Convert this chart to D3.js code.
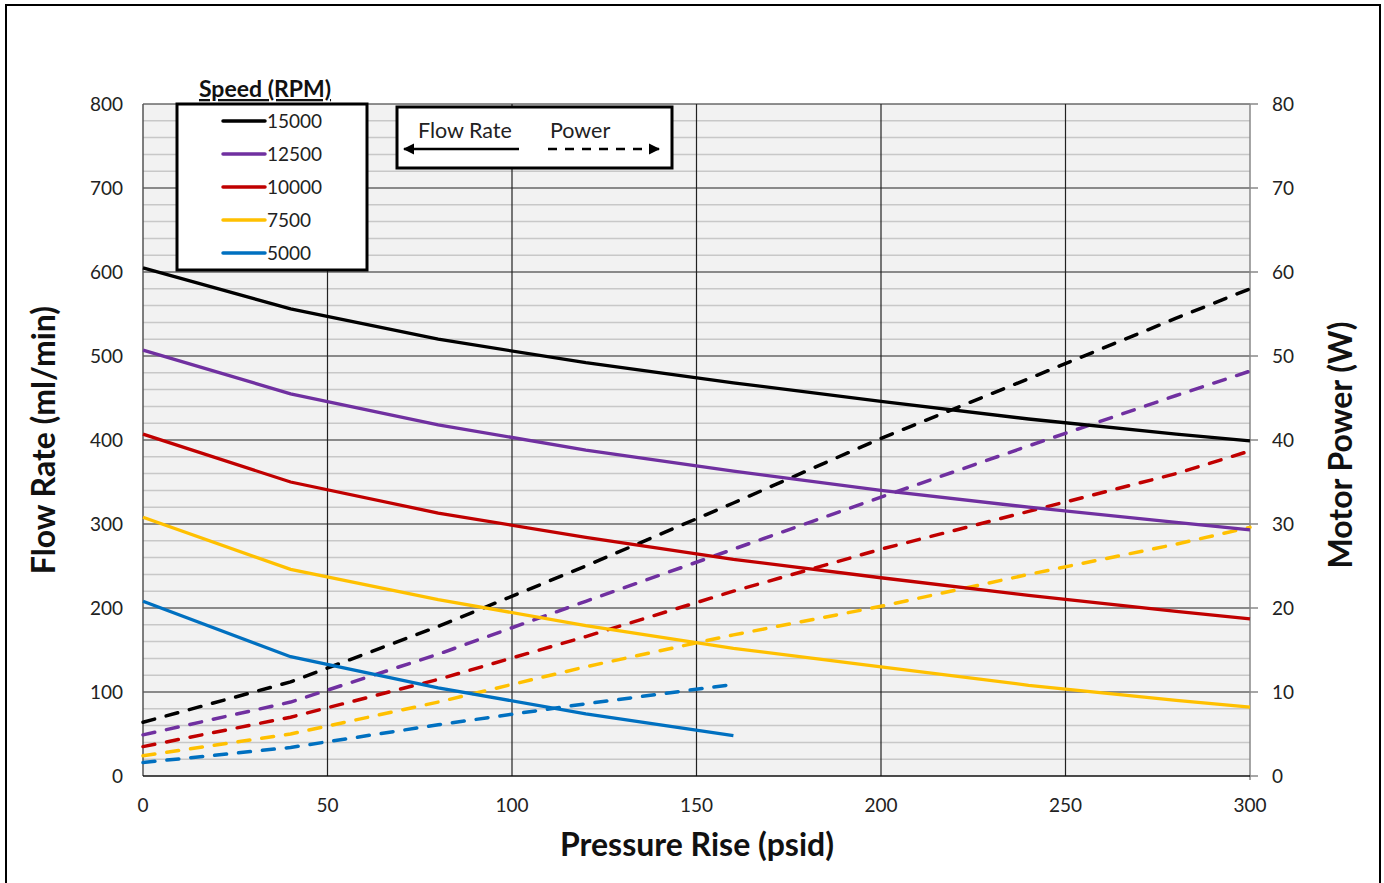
<!DOCTYPE html>
<html>
<head>
<meta charset="utf-8">
<style>
    body { margin: 0; background: #fff; font-family: Lato, "Open Sans", sans-serif; }
    .tick-label { font-size: 19px; fill: #222; }
    .title { font-weight: bold; fill: #111; }
    .flow { fill: none; stroke-width: 3.3px; }
    .power { fill: none; stroke-width: 3.5px; stroke-dasharray: 12, 12; stroke-linecap: round; }
</style>
<script src="https://cdn.jsdelivr.net/npm/d3@7"></script>
</head>
<body>
<script>
// pressure rise (psid) sample points
const pressure = [0, 40, 80, 120, 160, 200, 240, 280, 300];
const speeds = ["15000", "12500", "10000", "7500", "5000"];
const colors = ["#000000", "#7030a0", "#c00000", "#ffc000", "#0070c0"];

// flow rate (ml/min) per speed
const flow15000 = [605, 556, 520, 492, 468, 446, 425, 407, 399];
const flow12500 = [507, 455, 418, 388, 363, 340, 320, 302, 293];
const flow10000 = [407, 350, 313, 284, 258, 236, 215, 196, 187];
const flow7500  = [308, 246, 210, 179, 152, 130, 108, 90, 82];
const flow5000  = [208, 142, 105, 74, 48];

// motor power (W) per speed
const power15000 = [6.4, 11.2, 17.8, 25, 32.5, 40.2, 47.3, 54.5, 58];
const power12500 = [4.9, 8.8, 14.5, 20.8, 27, 33.2, 39.3, 45.3, 48.2];
const power10000 = [3.5, 7, 11.5, 16.6, 22, 27, 31.5, 36, 38.7];
const power7500  = [2.4, 5, 8.8, 13, 16.8, 20.2, 24, 27.6, 29.6];
const power5000  = [1.6, 3.4, 6.1, 8.6, 10.9];

const flows = [flow15000, flow12500, flow10000, flow7500, flow5000];
const powers = [power15000, power12500, power10000, power7500, power5000];

const xTicks = [0, 50, 100, 150, 200, 250, 300];
const yTicks = [0, 100, 200, 300, 400, 500, 600, 700, 800];
const y2Ticks = [0, 10, 20, 30, 40, 50, 60, 70, 80];

const W = 1384, H = 883;
const pLeft = 143, pRight = 1250, pTop = 104, pBottom = 776;

const svg = d3.select("body").append("svg").attr("width", W).attr("height", H);

// outer frame
svg.append("rect").attr("x", 6).attr("y", 5).attr("width", 1374).attr("height", 900)
    .attr("fill", "none").attr("stroke", "#000").attr("stroke-width", 2);

const x = d3.scaleLinear().domain([0, 300]).range([pLeft, pRight]);
const y = d3.scaleLinear().domain([0, 800]).range([pBottom, pTop]);
const y2 = d3.scaleLinear().domain([0, 80]).range([pBottom, pTop]);

// plot background
svg.append("rect").attr("x", pLeft).attr("y", pTop)
    .attr("width", pRight - pLeft).attr("height", pBottom - pTop).attr("fill", "#f2f2f2");

// minor horizontal grid
const minor = d3.range(20, 800, 20).filter(v => v % 100 !== 0);
svg.append("g").selectAll("line").data(minor).join("line")
    .attr("x1", pLeft).attr("x2", pRight)
    .attr("y1", d => y(d)).attr("y2", d => y(d))
    .attr("stroke", "#c8c8c8").attr("stroke-width", 1.5);

// major grid
svg.append("g").selectAll("line").data(yTicks.slice(1)).join("line")
    .attr("x1", pLeft).attr("x2", pRight)
    .attr("y1", d => y(d)).attr("y2", d => y(d))
    .attr("stroke", "#222").attr("stroke-width", 1.2);
svg.append("g").selectAll("line").data(xTicks.slice(1, -1)).join("line")
    .attr("x1", d => x(d)).attr("x2", d => x(d))
    .attr("y1", pTop).attr("y2", pBottom)
    .attr("stroke", "#222").attr("stroke-width", 1.2);

// axes lines
svg.append("line").attr("x1", pLeft).attr("x2", pLeft).attr("y1", pTop).attr("y2", pBottom)
    .attr("stroke", "#555").attr("stroke-width", 1.5);
svg.append("line").attr("x1", pRight).attr("x2", pRight).attr("y1", pTop).attr("y2", pBottom + 4)
    .attr("stroke", "#888").attr("stroke-width", 1.5);
svg.append("g").selectAll("line").data(y2Ticks).join("line")
    .attr("x1", pRight).attr("x2", pRight + 8)
    .attr("y1", d => y2(d)).attr("y2", d => y2(d))
    .attr("stroke", "#888").attr("stroke-width", 1.5);
svg.append("line").attr("x1", pLeft).attr("x2", pRight).attr("y1", pBottom).attr("y2", pBottom)
    .attr("stroke", "#111").attr("stroke-width", 1.5);

// tick labels
svg.append("g").selectAll("text").data(yTicks).join("text")
    .attr("class", "tick-label").attr("x", 123).attr("y", d => y(d) + 7)
    .attr("text-anchor", "end").text(d => d);
svg.append("g").selectAll("text").data(y2Ticks).join("text")
    .attr("class", "tick-label").attr("x", 1272).attr("y", d => y2(d) + 7)
    .text(d => d);
svg.append("g").selectAll("text").data(xTicks).join("text")
    .attr("class", "tick-label").attr("x", d => x(d)).attr("y", 812)
    .attr("text-anchor", "middle").text(d => d);

// axis titles
svg.append("text").attr("class", "title").attr("x", 697).attr("y", 856)
    .attr("text-anchor", "middle").style("font-size", "32px").text("Pressure Rise (psid)");
svg.append("text").attr("class", "title")
    .attr("transform", "translate(55,440) rotate(-90)")
    .attr("text-anchor", "middle").style("font-size", "32px").text("Flow Rate (ml/min)");
svg.append("text").attr("class", "title")
    .attr("transform", "translate(1352,445) rotate(-90)")
    .attr("text-anchor", "middle").style("font-size", "32px").text("Motor Power (W)");

// power lines (dashed, right axis)
const linePow = d3.line().x((d, i) => x(pressure[i])).y(d => y2(d));
svg.append("g").selectAll("path").data(powers).join("path")
    .attr("class", "power").attr("d", d => linePow(d))
    .attr("stroke", (d, i) => colors[i]);

// flow lines (solid, left axis)
const lineFlow = d3.line().x((d, i) => x(pressure[i])).y(d => y(d));
svg.append("g").selectAll("path").data(flows).join("path")
    .attr("class", "flow").attr("d", d => lineFlow(d))
    .attr("stroke", (d, i) => colors[i]);

// speed legend
svg.append("text").attr("class", "title").attr("x", 265).attr("y", 97)
    .attr("text-anchor", "middle").style("font-size", "23px")
    .style("text-decoration", "underline").text("Speed (RPM)");
svg.append("rect").attr("x", 177).attr("y", 104).attr("width", 190).attr("height", 166)
    .attr("fill", "#fff").attr("stroke", "#000").attr("stroke-width", 3);
const leg = svg.append("g").selectAll("g").data(speeds).join("g")
    .attr("transform", (d, i) => `translate(0,${121 + i * 33})`);
leg.append("line").attr("x1", 223).attr("x2", 265).attr("y1", 0).attr("y2", 0)
    .attr("stroke", (d, i) => colors[i]).attr("stroke-width", 3.5).attr("stroke-linecap", "round");
leg.append("text").attr("x", 267).attr("y", 7).style("font-size", "19px").attr("fill", "#222")
    .text(d => d);

// flow / power key
svg.append("defs").append("marker").attr("id", "arr")
    .attr("viewBox", "0 0 10 10").attr("refX", 9).attr("refY", 5)
    .attr("markerWidth", 4.5).attr("markerHeight", 4.5).attr("orient", "auto-start-reverse")
    .append("path").attr("d", "M0,0 L10,5 L0,10 Z").attr("fill", "#000");
svg.append("rect").attr("x", 397).attr("y", 107).attr("width", 275).attr("height", 61)
    .attr("fill", "#fff").attr("stroke", "#000").attr("stroke-width", 3);
svg.append("text").attr("x", 418).attr("y", 138).style("font-size", "21.5px").attr("fill", "#222").text("Flow Rate");
svg.append("text").attr("x", 550).attr("y", 138).style("font-size", "21.5px").attr("fill", "#222").text("Power");
svg.append("line").attr("x1", 519).attr("x2", 404).attr("y1", 149).attr("y2", 149)
    .attr("stroke", "#000").attr("stroke-width", 2.5).attr("marker-end", "url(#arr)");
svg.append("line").attr("x1", 548).attr("x2", 659).attr("y1", 149).attr("y2", 149)
    .attr("stroke", "#000").attr("stroke-width", 2.5).attr("stroke-dasharray", "9,8")
    .attr("marker-end", "url(#arr)");
</script>
</body>
</html>
